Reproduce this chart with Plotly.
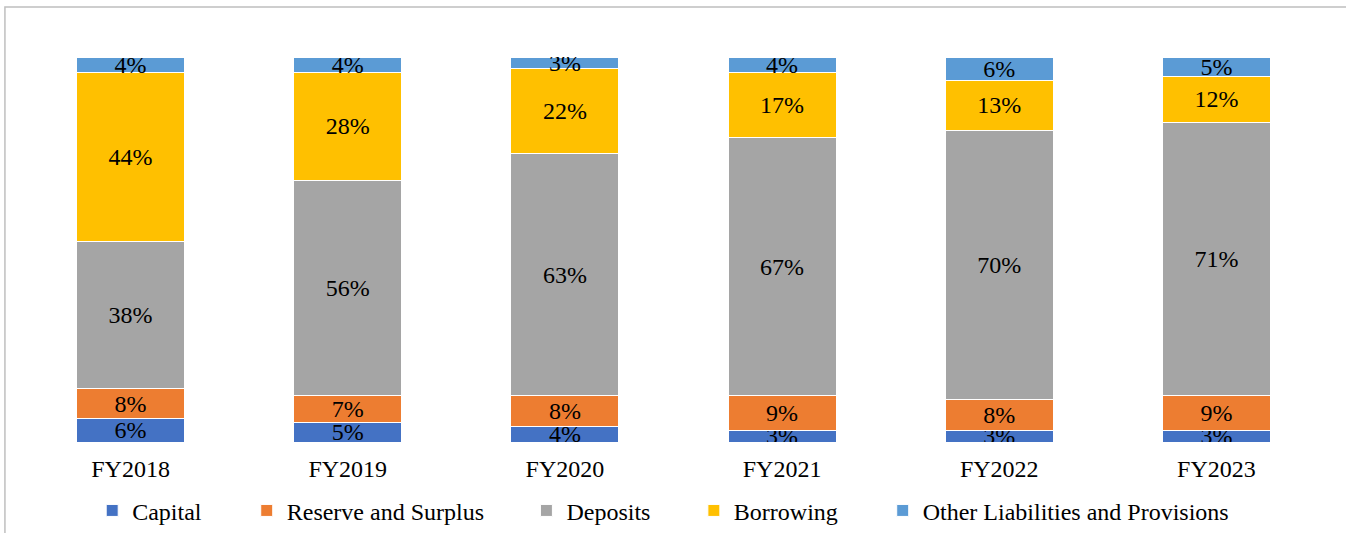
import plotly.graph_objects as go

years = ["FY2018", "FY2019", "FY2020", "FY2021", "FY2022", "FY2023"]
capital = [6, 5, 4, 3, 3, 3]
reserve = [8, 7, 8, 9, 8, 9]
deposits = [38, 56, 63, 67, 70, 71]
borrowing = [44, 28, 22, 17, 13, 12]
other = [4, 4, 3, 4, 6, 5]

series = [
    ("Capital", capital, "#4472C4"),
    ("Reserve and Surplus", reserve, "#ED7D31"),
    ("Deposits", deposits, "#A5A5A5"),
    ("Borrowing", borrowing, "#FFC000"),
    ("Other Liabilities and Provisions", other, "#5B9BD5"),
]

FONT = "Liberation Serif, Times New Roman, serif"
FS = 24

# legend left edges (container fraction) for each series' own legend
legend_x = [0.0685, 0.1833, 0.3911, 0.5155, 0.6558]
legend_ids = ["legend", "legend2", "legend3", "legend4", "legend5"]

fig = go.Figure()
for (name, vals, color), lid in zip(series, legend_ids):
    fig.add_trace(go.Bar(
        x=years, y=vals, name=name, legend=lid,
        marker=dict(color=color, line=dict(color="white", width=1)),
        text=[f"{v}%" for v in vals],
        textposition="inside",
        insidetextanchor="middle",
        constraintext="none",
        textfont=dict(family=FONT, size=FS, color="black"),
    ))

legend_layout = {}
for lid, lx in zip(legend_ids, legend_x):
    legend_layout[lid] = dict(
        x=lx, xref="container", xanchor="left",
        y=0.0416, yref="container", yanchor="middle",
        orientation="h", itemwidth=30,
        bgcolor="rgba(0,0,0,0)", borderwidth=0,
        font=dict(family=FONT, size=FS, color="black"),
    )

fig.update_layout(
    barmode="stack",
    bargap=0.502,
    width=1346, height=533,
    margin=dict(l=22, r=21, t=57, b=91, autoexpand=False),
    paper_bgcolor="white",
    plot_bgcolor="white",
    font=dict(family=FONT, size=FS, color="black"),
    showlegend=True,
    xaxis=dict(showline=False, ticks="", automargin=False, ticklabelstandoff=10,
               tickfont=dict(family=FONT, size=FS, color="black")),
    yaxis=dict(range=[0, 100], visible=False, showgrid=False, automargin=False),
    shapes=[dict(type="rect", xref="paper", yref="paper",
                 x0=-0.0131, x1=1.1, y0=-0.5, y1=1.13,
                 line=dict(color="#BFBFBF", width=1.5), layer="below")],
    **legend_layout,
)

fig.write_html(
    "out.html",
    config={"displayModeBar": False},
    post_script="document.body.style.margin='0';document.body.style.overflow='hidden';",
)
